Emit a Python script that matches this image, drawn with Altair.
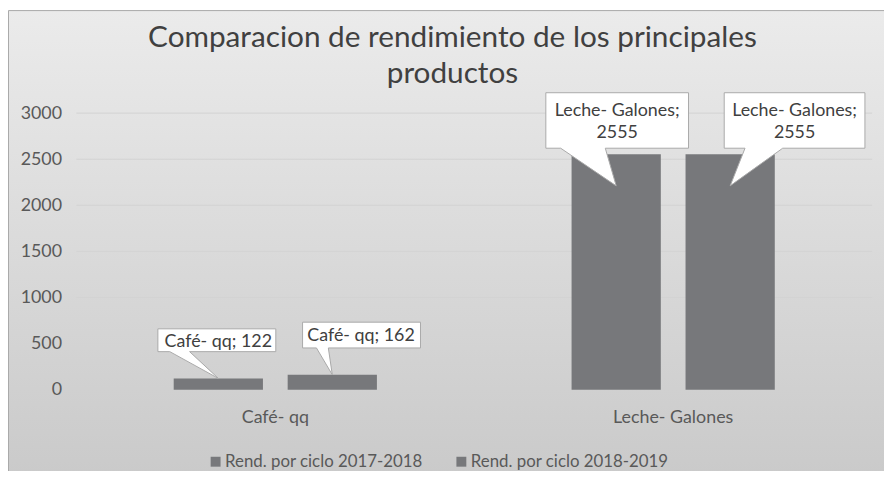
import json
import altair as alt
import pandas as pd

# ---------------- data ----------------
categories = ["Café- qq", "Leche- Galones"]
series = ["Rend. por ciclo 2017-2018", "Rend. por ciclo 2018-2019"]
values_2017_2018 = [122, 2555]
values_2018_2019 = [162, 2555]
y_ticks = [0, 500, 1000, 1500, 2000, 2500, 3000]
title_lines = ["Comparacion de rendimiento de los principales", "productos"]

rows = []
for s, vals in zip(series, [values_2017_2018, values_2018_2019]):
    for c, v in zip(categories, vals):
        rows.append({"producto": c, "serie": s, "valor": v})
df = pd.DataFrame(rows)
grid_df = pd.DataFrame({"valor": [t for t in y_ticks if t > 0]})

# ---------------- style ----------------
FONT = "Lato"
BAR = "#77787b"
TXT = "#404040"
LBL = "#595959"
W, H = 803, 279
PAD = {"left": 69, "top": 104, "right": 12, "bottom": 80}

x_scale = alt.Scale(paddingInner=0, paddingOuter=0)
xo_scale = alt.Scale(paddingInner=0.217, paddingOuter=0.854)
y_scale = alt.Scale(domain=[0, 3000], nice=False)

x_axis = alt.Axis(title=None, labelAngle=0, ticks=False, domain=False, grid=False,
                  labelFont=FONT, labelFontSize=18, labelColor=LBL, labelPadding=19, zindex=1)
y_axis = alt.Axis(title=None, values=y_ticks, format="d", ticks=False, domain=False, grid=False,
                  labelFont=FONT, labelFontSize=18, labelColor=LBL, labelPadding=15, zindex=1)

x_enc = alt.X("producto:N", sort=categories, scale=x_scale, axis=x_axis)
xo_enc = alt.XOffset("serie:N", sort=series, scale=xo_scale)
y_enc = alt.Y("valor:Q", scale=y_scale, axis=y_axis)

# background panel (decoration)
background = alt.Chart(alt.Data(values=[{}])).mark_rect(
    fill=alt.Gradient(gradient="linear", x1=0, y1=0, x2=0, y2=1,
                      stops=[alt.GradientStop(offset=0, color="#ebebeb"),
                             alt.GradientStop(offset=1, color="#cacaca")]),
    stroke="#a8a8a8", strokeWidth=1,
).encode(
    x=alt.value(-PAD["left"] + 0.5), x2=alt.value(W + PAD["right"] + 5),
    y=alt.value(-PAD["top"] + 0.5), y2=alt.value(H + PAD["bottom"] + 5),
)

grid = alt.Chart(grid_df).mark_rule(color="#d2d2d2", strokeWidth=1).encode(y=y_enc)

bars = alt.Chart(df).mark_bar().encode(
    x=x_enc, xOffset=xo_enc, y=y_enc,
    color=alt.Color("serie:N", sort=series,
                    scale=alt.Scale(domain=series, range=[BAR, BAR]),
                    legend=alt.Legend(title=None, orient="none", legendX=132, legendY=343,
                                      direction="horizontal", symbolType="square", symbolSize=100,
                                      symbolStrokeWidth=0, labelFont=FONT, labelFontSize=17,
                                      labelColor=LBL, labelOffset=1, columnPadding=30,
                                      labelLimit=400)),
)

# callout shapes (pixel paths, tip at origin) and text offsets per bar
callouts = {
    (0, 0): ("M-61,-50H58V-27H-29L0,0L-49,-27H-61Z", 0, -37),
    (0, 1): ("M-30,-53H89V-27H-4L0,0L-16,-27H-30Z", 29, -39),
    (1, 0): ("M-71,-62H73V-6H-11L0,32L-56,-6H-71Z", 1, -44),
    (1, 1): ("M-6,-62H136V-6H53L0,32L15,-6H-6Z", 65, -44),
}

layers = [background, grid, bars]
for (ci, si), (path, tdx, tdy) in callouts.items():
    flt = f"datum.producto == {json.dumps(categories[ci])} && datum.serie == {json.dumps(series[si])}"
    base = alt.Chart(df).transform_filter(flt).transform_calculate(
        label="datum.producto + ';' + (length(datum.producto) > 10 ? '\\n' : ' ') + datum.valor"
    )
    box = base.mark_point(shape=path, size=4, filled=True, fill="white", stroke="#a9a9a9",
                          strokeWidth=1, opacity=1).encode(x=x_enc, xOffset=xo_enc, y=y_enc)
    txt = base.mark_text(font=FONT, fontSize=18, color=TXT, align="center", baseline="middle",
                         dx=tdx, dy=tdy, lineBreak="\n", lineHeight=23).encode(
        x=x_enc, xOffset=xo_enc, y=y_enc, text="label:N")
    layers += [box, txt]

chart = alt.layer(*layers).properties(
    width=W, height=H,
    padding=PAD,
    autosize=alt.AutoSizeParams(type="none"),
    background="#ffffff",
    title=alt.TitleParams(text=title_lines, font=FONT, fontSize=30, fontWeight="normal",
                          color=TXT, anchor="middle", frame="group", dx=-22, offset=-80,
                          lineHeight=37),
).configure_view(stroke=None)

chart.save("out.html", embed_options={"renderer": "svg", "actions": False})
